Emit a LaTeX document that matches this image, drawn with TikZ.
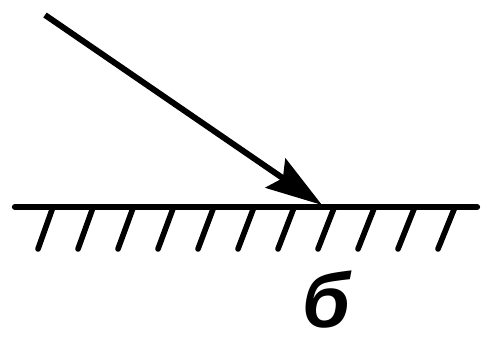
\documentclass[tikz,border=0pt]{standalone}
\usepackage{fontspec}
\newfontfamily\labelfont{Liberation Sans}
\usetikzlibrary{arrows.meta}
\tikzset{
  surface/.style={line width=3.6pt,line cap=round},
  hatch/.style={line width=3.2pt,line cap=round},
  ray/.style={line width=3.4pt,-{Stealth[length=32pt,width=20pt,inset=5pt]}},
  caption/.style={font=\labelfont\bfseries\itshape\fontsize{44}{50}\selectfont,inner sep=0pt}
}

\begin{document}
\begin{tikzpicture}[x=0.02cm,y=-0.02cm]
    \useasboundingbox (0,0) rectangle (485,343);
    \coordinate (left) at (15,207);
    \coordinate (right) at (477,207);
    \coordinate (src) at (45,15);
    \coordinate (hit) at (322,205);
    \draw[surface] (left) -- (right);
    \foreach \i in {0,...,10}
        \draw[hatch] ({53+40.2*\i},207) -- ({38+40*\i},249);
    \draw[ray] (src) -- (hit);
    \node[caption] (label) at (326,300) {б};
\end{tikzpicture}
\end{document}
